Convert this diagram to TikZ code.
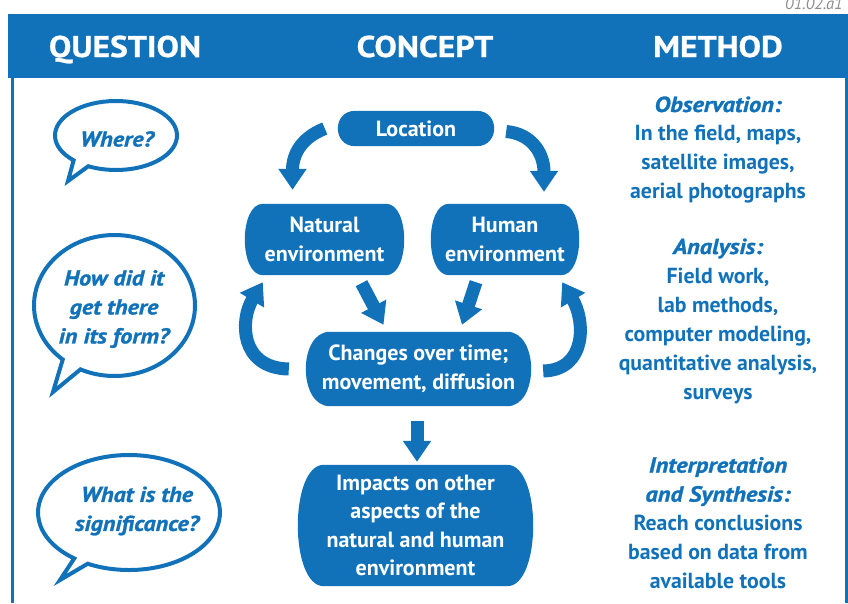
\documentclass[tikz,border=0pt]{standalone}
\usepackage{fontspec}
\setmainfont{PT Sans}
\usetikzlibrary{arrows.meta,calc,backgrounds}
\definecolor{geoblue}{HTML}{1172BA}
\definecolor{taggrey}{HTML}{8C8C8C}

% filled box with slightly bulging, rounded sides, sized by a node
\newcommand\barrelfill[2]{%
  \fill[geoblue] ($(#1.north west)+(#2,0)$) -- ($(#1.north east)+(-#2,0)$)
    .. controls ($(#1.north east)+(#2/3,0)$) and ($(#1.south east)+(#2/3,0)$)
    .. ($(#1.south east)+(-#2,0)$) -- ($(#1.south west)+(#2,0)$)
    .. controls ($(#1.south west)+(-#2/3,0)$) and ($(#1.north west)+(-#2/3,0)$)
    .. cycle;}
% heavier, wider bold italic
\newcommand\heavyit{\itshape\addfontfeatures{FakeBold=1.2,FakeStretch=1.12}}
\newcommand\emphit[1]{{\heavyit #1}}

\tikzset{
  headtext/.style={text=white, font=\fontsize{30}{34}\selectfont\bfseries\addfontfeatures{FakeStretch=1.12,FakeBold=0.8}, anchor=base, inner sep=0},
  boxtext/.style={text=white, align=center, inner sep=0, font=\fontsize{22}{28.5}\selectfont\bfseries},
  methodtext/.style={text=geoblue, align=center, inner sep=0, font=\fontsize{21.8}{29}\selectfont\bfseries},
  asktext/.style={text=geoblue, align=center, inner sep=0, font=\fontsize{21.5}{29}\selectfont\bfseries\heavyit},
  bubble/.style={draw=geoblue, line width=4pt, fill=white, line join=miter, miter limit=20},
  bigarrow/.style={color=geoblue, line width=13pt, -{Triangle[width=27pt,length=21pt]}},
}

\begin{document}
\begin{tikzpicture}[x=1pt,y=-1pt]
\useasboundingbox (0,0) rectangle (848,603);

% header band and frame
\fill[geoblue] (8,14) rectangle (848,78);
\draw[geoblue, line width=3pt] (12.5,78) -- (12.5,603);
\draw[geoblue, line width=3pt] (846.5,78) -- (846.5,603);
\node[anchor=base west, inner sep=0, text=taggrey, font=\fontsize{16.5}{18}\selectfont\itshape] (tag) at (785,9.5) {01.02.a1};

\node[headtext] (hq) at (125,57) {QUESTION};
\node[headtext] (hc) at (425,57) {CONCEPT};
\node[headtext] (hm) at (718,57) {METHOD};

% speech bubbles
\draw[bubble] ($(116,135.5)+(134:61 and 34.5)$) arc[start angle=134, end angle=477, x radius=61, y radius=34.5] -- (68,181) -- cycle;
\draw[bubble] ($(114.5,305.5)+(130:80.5 and 70.5)$) arc[start angle=130, end angle=475, x radius=80.5, y radius=70.5] -- (53,392) -- cycle;
\draw[bubble] ($(129,512.5)+(127:91 and 57.5)$) arc[start angle=127, end angle=477, x radius=91, y radius=57.5] -- (60,580) -- cycle;

\node[asktext] (qwhere) at (117,139) {Where?};
\node[asktext] (qhow) at (114,309) {How did it\\get there\\in its form?};
\node[asktext] (qwhat) at (137,511) {What is the\\significance?};

% concept boxes
\node[boxtext, minimum width=156, minimum height=35] (loc) at (416,128.5) {Location};
\node[boxtext, minimum width=159, minimum height=71] (nat) at (324.5,239.5) {Natural\\environment};
\node[boxtext, minimum width=148, minimum height=71] (hum) at (505,239.5) {Human\\environment};
\node[boxtext, minimum width=225, minimum height=74] (chg) at (418.5,369) {Changes over time;\\movement, diffusion};
\node[boxtext, minimum width=235, minimum height=121] (imp) at (415.5,525.5) {Impacts on other\\aspects of the\\natural and human\\environment};

\begin{scope}[on background layer]
  \barrelfill{loc}{17.5}
  \barrelfill{nat}{18}
  \barrelfill{hum}{18}
  \barrelfill{chg}{24}
  \barrelfill{imp}{26}
\end{scope}

% connectors
\draw[bigarrow] ($(loc.west)+(-13,0)$) .. controls +(-24,9.5) and +(0,-35) .. ($(nat.north)+(-32,-14)$);
\draw[bigarrow] ($(loc.east)+(12,3)$) .. controls +(24,2) and +(0,-40) .. ($(hum.north)+(39,-12)$);
\draw[bigarrow] ($(nat.south)+(37,8)$) -- ($(chg.north)+(-35,-7)$);
\draw[bigarrow] ($(hum.south)+(-29,7)$) -- ($(chg.north)+(43.5,-7)$);
\draw[bigarrow] ($(chg.west)+(-17,0)$) .. controls +(-49,-1) and +(-23,38) .. ($(nat.south west)+(18,7)$);
\draw[bigarrow] ($(chg.east)+(12,2)$) .. controls +(44,-1) and +(23,38) .. ($(hum.south east)+(-17,7)$);
\draw[bigarrow] ($(chg.south)+(-1.5,15)$) -- ($(imp.north)+(1.5,-3)$);

% method column
\node[methodtext] (obs) at (718,150) {\emphit{Observation:}\\In the field, maps,\\satellite images,\\aerial photographs};
\node[methodtext] (ana) at (718,321) {\emphit{Analysis:}\\Field work,\\lab methods,\\computer modeling,\\quantitative analysis,\\surveys};
\node[methodtext] (int) at (718,523) {\emphit{Interpretation}\\\emphit{and Synthesis:}\\Reach conclusions\\based on data from\\available tools};
\end{tikzpicture}
\end{document}
